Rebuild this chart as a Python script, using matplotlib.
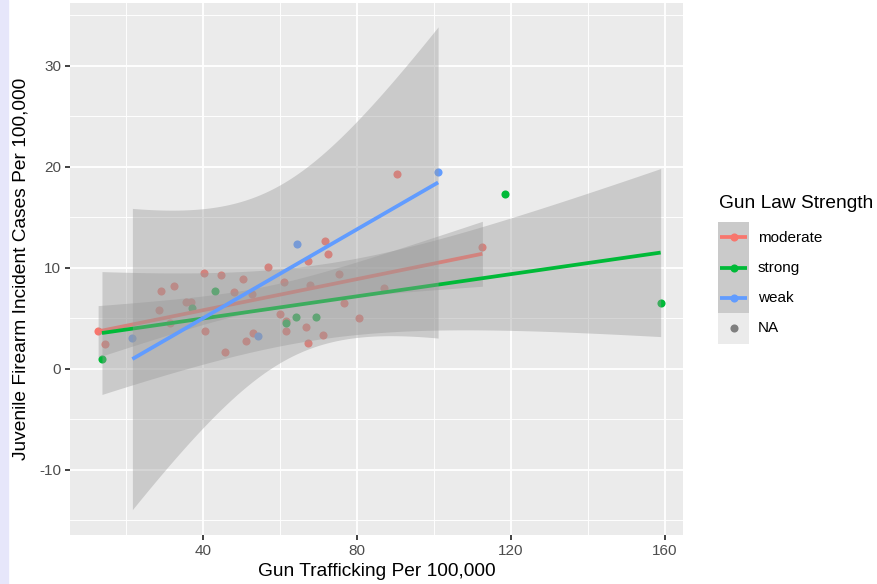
import math
import numpy as np
import matplotlib
matplotlib.use("Agg")
import matplotlib.pyplot as plt
from matplotlib.patches import Rectangle

plt.rcParams['font.family'] = ['Liberation Sans', 'DejaVu Sans']
plt.rcParams['axes.unicode_minus'] = False

# data
moderate_x = [12.8, 14.5, 28.7, 29.1, 31.6, 32.5, 35.6, 36.9, 40.2, 40.6, 44.7, 45.7,
              48.1, 50.4, 51.2, 52.8, 53.0, 57.0, 60.0, 61.2, 61.6, 61.7, 66.7, 67.4,
              67.4, 67.7, 71.2, 71.7, 72.5, 75.3, 76.6, 80.6, 87.0, 90.3, 112.6]
moderate_y = [3.7, 2.5, 5.8, 7.7, 4.5, 8.2, 6.6, 6.6, 9.5, 3.7, 9.3, 1.7,
              7.6, 8.85, 2.7, 7.4, 3.5, 10.1, 5.4, 8.55, 3.7, 4.75, 4.1, 10.7,
              2.6, 8.3, 3.3, 12.6, 11.4, 9.4, 6.55, 5.0, 7.95, 19.3, 12.1]
strong_x = [13.8, 37.2, 43.1, 61.5, 64.3, 69.5, 118.4, 158.9]
strong_y = [1.0, 6.0, 7.7, 4.55, 5.15, 5.15, 17.3, 6.5]
weak_x = [21.7, 54.4, 64.5, 101.1]
weak_y = [3.0, 3.2, 12.3, 19.45]

groups = ['moderate', 'strong', 'weak']
colors = ['#F8766D', '#00BA38', '#619CFF']
xs = [moderate_x, strong_x, weak_x]
ys = [moderate_y, strong_y, weak_y]

x_ticks = [40, 80, 120, 160]
y_ticks = [-10, 0, 10, 20, 30]


def t_quantile(p, df):
    # quantile of Student t by bisection on a numerically integrated cdf
    c = math.gamma((df + 1) / 2) / (math.sqrt(df * math.pi) * math.gamma(df / 2))

    def cdf(t):
        u = np.linspace(0, t, 4001)
        f = c * (1 + u ** 2 / df) ** (-(df + 1) / 2)
        return 0.5 + np.trapezoid(f, u)

    lo, hi = 0.0, 50.0
    for _ in range(60):
        mid = (lo + hi) / 2
        if cdf(mid) < p:
            lo = mid
        else:
            hi = mid
    return (lo + hi) / 2


def lm_fit(x, y, n_out=80):
    x = np.asarray(x)
    y = np.asarray(y)
    n = len(x)
    slope, icpt = np.polyfit(x, y, 1)
    resid = y - (icpt + slope * x)
    s = np.sqrt(np.sum(resid ** 2) / (n - 2))
    sxx = np.sum((x - x.mean()) ** 2)
    xg = np.linspace(x.min(), x.max(), n_out)
    yg = icpt + slope * xg
    se = s * np.sqrt(1 / n + (xg - x.mean()) ** 2 / sxx)
    t = t_quantile(0.975, n - 2)
    return xg, yg, yg - t * se, yg + t * se


fig = plt.figure(figsize=(8.77, 5.84), dpi=100)
fig.patches.append(Rectangle((0, 0), 8 / 877, 1, transform=fig.transFigure,
                             color='#E6E6FA', zorder=-1))
ax = fig.add_axes([70 / 877, 1 - 535 / 584, 613 / 877, 532 / 584])
ax.set_facecolor('#EBEBEB')
for s in ax.spines.values():
    s.set_visible(False)

ax.set_xlim(5.5, 164.7)
ax.set_ylim(-16.45, 36.2)
ax.set_xticks(x_ticks)
ax.set_yticks(y_ticks)
ax.set_xticks([20, 60, 100, 140], minor=True)
ax.set_yticks([-15, -5, 5, 15, 25, 35], minor=True)
ax.grid(which='major', color='white', linewidth=1.35, zorder=0)
ax.grid(which='minor', color='white', linewidth=0.65, zorder=0)
ax.set_axisbelow(True)
ax.tick_params(which='major', length=3.4, width=1.3, color='#333333',
               labelsize=11, labelcolor='#4D4D4D', pad=3)
ax.tick_params(which='minor', length=0)

# points first, then ribbons and lines per group (ggplot layer order)
for i in range(3):
    ax.scatter(xs[i], ys[i], s=34, color=colors[i], linewidths=0, zorder=2)
for i in range(3):
    xg, yg, lo, hi = lm_fit(xs[i], ys[i])
    ax.fill_between(xg, lo, hi, color='#999999', alpha=0.4, linewidth=0, zorder=3 + 2 * i)
    ax.plot(xg, yg, color=colors[i], linewidth=2.7, zorder=4 + 2 * i, solid_capstyle='butt')

ax.set_xlabel('Gun Trafficking Per 100,000', fontsize=13.75, labelpad=4)
ax.set_ylabel('Juvenile Firearm Incident Cases Per 100,000', fontsize=13.75, labelpad=7)

# legend drawn by hand
fig.text(719 / 877, 1 - 203 / 584, 'Gun Law Strength', fontsize=13.75, va='center', ha='left')
lax = fig.add_axes([718 / 877, 1 - 343.5 / 584, 31 / 877, 121.5 / 584])
lax.set_xlim(0, 1)
lax.set_ylim(0, 4)
lax.axis('off')
labels = groups + ['NA']
for k in range(4):
    y0 = 3 - k
    lax.add_patch(Rectangle((0, y0), 1, 1, color='#EBEBEB', linewidth=0))
    if k < 3:
        lax.add_patch(Rectangle((0, y0), 1, 1, color='#999999', alpha=0.4, linewidth=0))
        lax.plot([0.08, 0.92], [y0 + 0.5, y0 + 0.5], color=colors[k], linewidth=2.7,
                 solid_capstyle='butt')
        lax.scatter([0.5], [y0 + 0.5], s=34, color=colors[k], linewidths=0, zorder=3)
    else:
        lax.scatter([0.5], [y0 + 0.5], s=34, color='#7F7F7F', linewidths=0, zorder=3)
    fig.text(758 / 877, 1 - (238.3 + 30 * k) / 584, labels[k], fontsize=11,
             va='center', ha='left')

fig.savefig('out.png', dpi=100)
